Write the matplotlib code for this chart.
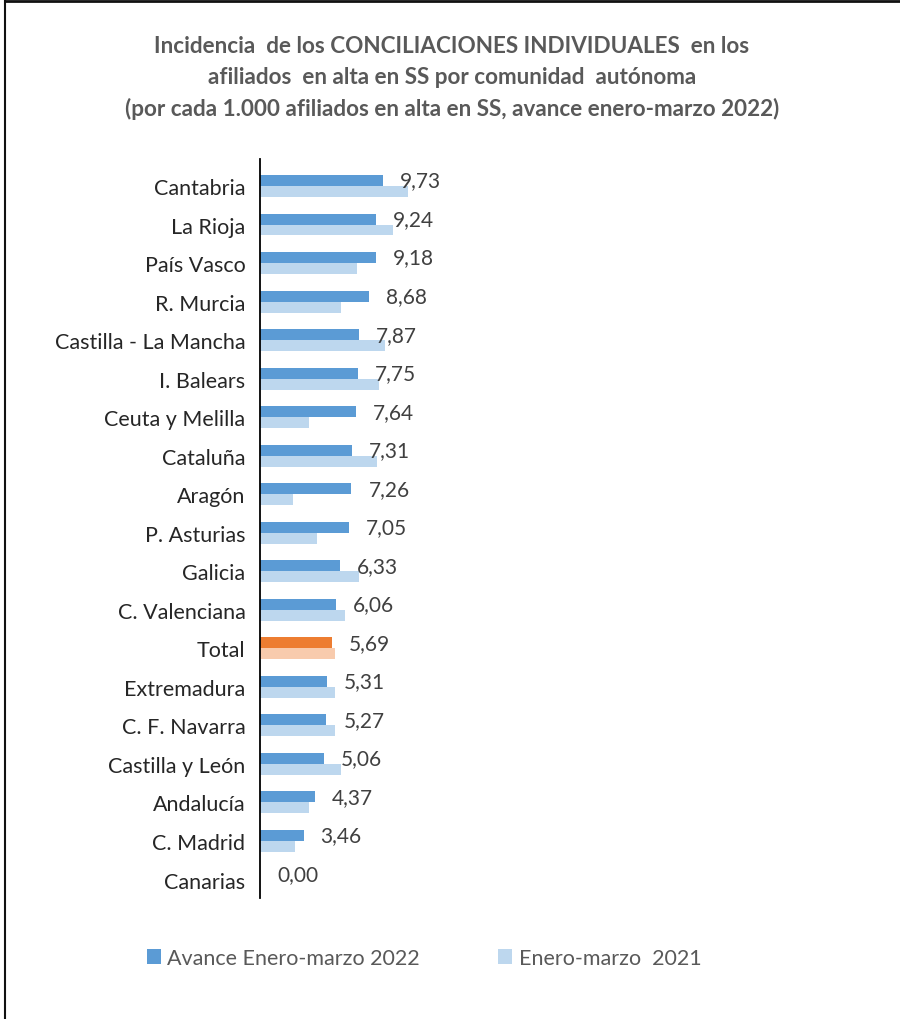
import matplotlib
matplotlib.use("Agg")
import matplotlib.pyplot as plt
from matplotlib.patches import Patch
from matplotlib.lines import Line2D

plt.rcParams['font.family'] = ['Lato', 'DejaVu Sans']

# data
regiones = ["Cantabria", "La Rioja", "País Vasco", "R. Murcia", "Castilla - La Mancha",
            "I. Balears", "Ceuta y Melilla", "Cataluña", "Aragón", "P. Asturias",
            "Galicia", "C. Valenciana", "Total", "Extremadura", "C. F. Navarra",
            "Castilla y León", "Andalucía", "C. Madrid", "Canarias"]
avance_2022 = [9.73, 9.24, 9.18, 8.68, 7.87, 7.75, 7.64, 7.31, 7.26, 7.05,
               6.33, 6.06, 5.69, 5.31, 5.27, 5.06, 4.37, 3.46, 0.00]
enero_marzo_2021 = [11.77, 10.52, 7.72, 6.45, 9.89, 9.41, 3.91, 9.28, 2.62, 4.52,
                    7.83, 6.77, 5.98, 5.98, 5.98, 6.43, 3.91, 2.78, 0.0]

serie_labels = ["Avance Enero-marzo 2022", "Enero-marzo  2021"]
titulo = ("Incidencia  de los CONCILIACIONES INDIVIDUALES  en los\n"
          "afiliados  en alta en SS por comunidad  autónoma\n"
          "(por cada 1.000 afiliados en alta en SS, avance enero-marzo 2022)")

azul = "#5B9BD5"
azul_claro = "#BDD7EE"
naranja = "#ED7D31"
naranja_claro = "#F8CBAD"

W, H = 900, 1020
fig = plt.figure(figsize=(W / 100, H / 100), dpi=100)

# axes placed in pixel terms: y axis at x=260, from y=160 to y=899
ax_left, ax_right = 260, 820
ax_top, ax_bottom = 160, 899
ax = fig.add_axes([ax_left / W, 1 - ax_bottom / H,
                   (ax_right - ax_left) / W, (ax_bottom - ax_top) / H])

px_per_unit = 12.6
ax.set_xlim(0, (ax_right - ax_left) / px_per_unit)
ax.set_ylim(18.48, -0.70)

h = 0.285
ys = list(range(len(regiones)))
col_a = [naranja if r == "Total" else azul for r in regiones]
col_b = [naranja_claro if r == "Total" else azul_claro for r in regiones]

ax.barh([y - h / 2 for y in ys], avance_2022, height=h, color=col_a, edgecolor="none")
ax.barh([y + h / 2 for y in ys], enero_marzo_2021, height=h, color=col_b, edgecolor="none")

for y, v in zip(ys, avance_2022):
    ax.annotate(f"{v:.2f}".replace(".", ","), xy=(v, y - h / 2), xytext=(12.2, 0),
                textcoords="offset points", ha="left", va="center",
                fontsize=15, color="#404040", annotation_clip=False)

ax.set_yticks(ys)
ax.set_yticklabels(regiones, fontsize=15.5, color="#262626")
ax.tick_params(axis="y", length=0, pad=10.5)
ax.set_xticks([])
for s in ["top", "right", "bottom"]:
    ax.spines[s].set_visible(False)
ax.spines["left"].set_color("#000000")
ax.spines["left"].set_linewidth(1.3)

fig.text(452 / W, 1 - 78 / H, titulo, ha="center", va="center", fontsize=16.2,
         fontweight="bold", color="#595959", linespacing=1.58)

handles = [Patch(facecolor=azul, edgecolor="none"), Patch(facecolor=azul_claro, edgecolor="none")]
fig.legend(handles, serie_labels, loc="center", bbox_to_anchor=(424 / W, 1 - 959 / H),
           ncol=2, frameon=False, fontsize=15.5, handlelength=0.65, handleheight=0.65,
           handletextpad=0.3, columnspacing=3.65, labelcolor="#595959")

# chart frame (top and left edges visible)
fig.add_artist(Line2D([5 / W, 1], [1 - 2 / H, 1 - 2 / H], color="#111111", linewidth=2))
fig.add_artist(Line2D([5 / W, 5 / W], [0, 1 - 2 / H], color="#111111", linewidth=1.5))

fig.savefig("out.png", dpi=100, facecolor="white")
